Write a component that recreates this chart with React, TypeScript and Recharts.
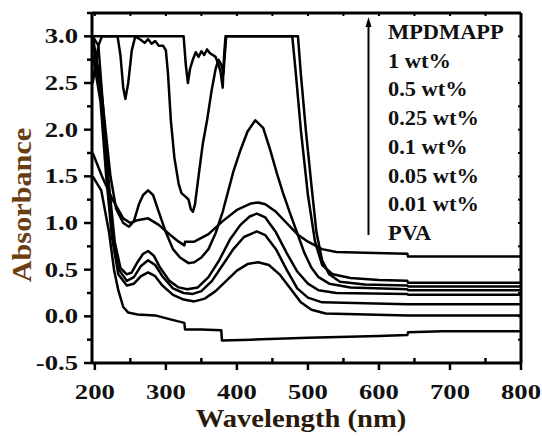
import React from 'react';
import { LineChart, Line, XAxis, YAxis } from 'recharts';

// wavelength (nm), absorbance pairs
const wt1: [number, number][] = [
  [197, 3.0], [325, 3.0], [328, 2.7], [331, 2.5], [334, 2.65], [338, 2.75], [342, 2.83], [346, 2.78],
  [350, 2.84], [354, 2.8], [358, 2.86], [362, 2.82], [366, 2.8], [370, 2.78], [374, 2.7], [377, 2.62],
  [380, 2.45], [382, 2.8], [384, 3.0], [478, 3.0], [483, 2.6], [490, 2.0], [500, 1.3], [510, 0.8],
  [520, 0.55], [535, 0.45], [560, 0.41], [600, 0.39], [640, 0.38], [641, 0.36], [800, 0.36],
];
const wt05: [number, number][] = [
  [197, 2.5], [205, 2.9], [210, 3.0], [232, 3.0], [236, 2.8], [240, 2.45], [243, 2.33], [247, 2.5],
  [252, 2.85], [257, 3.0], [265, 2.96], [270, 2.93], [275, 2.97], [280, 2.92], [285, 2.95], [290, 2.9],
  [296, 2.9], [300, 2.85], [303, 2.6], [307, 2.1], [312, 1.7], [318, 1.42], [322, 1.32], [328, 1.28],
  [332, 1.25], [335, 1.15], [338, 1.12], [341, 1.2], [346, 1.5], [352, 1.85], [358, 2.1], [364, 2.4],
  [370, 2.65], [374, 2.75], [378, 2.7], [381, 2.6], [385, 3.0], [486, 3.0], [490, 2.6], [497, 2.0],
  [505, 1.4], [512, 0.9], [520, 0.6], [530, 0.45], [545, 0.37], [580, 0.34], [640, 0.33], [641, 0.32],
  [800, 0.32],
];
const wt025: [number, number][] = [
  [197, 3.0], [208, 2.5], [215, 2.0], [222, 1.5], [230, 1.15], [240, 1.0], [248, 0.96], [255, 1.02],
  [262, 1.2], [268, 1.3], [275, 1.35], [282, 1.3], [290, 1.12], [300, 0.9], [310, 0.72], [320, 0.63],
  [326, 0.6], [332, 0.57], [340, 0.58], [350, 0.63], [360, 0.72], [370, 0.89], [380, 1.12], [387, 1.32],
  [395, 1.55], [405, 1.78], [415, 1.98], [426, 2.1], [437, 2.02], [447, 1.78], [456, 1.54], [465, 1.32],
  [475, 1.1], [485, 0.89], [495, 0.68], [505, 0.52], [515, 0.42], [530, 0.35], [560, 0.31], [640, 0.29],
  [641, 0.28], [800, 0.28],
];
const wt01: [number, number][] = [
  [197, 1.75], [210, 1.5], [225, 1.25], [240, 1.05], [250, 1.0], [260, 1.03], [275, 1.05], [290, 0.98],
  [305, 0.88], [318, 0.8], [326, 0.76], [327, 0.8], [340, 0.8], [360, 0.88], [380, 1.02], [400, 1.14],
  [420, 1.21], [430, 1.22], [440, 1.2], [455, 1.12], [470, 1.0], [485, 0.88], [500, 0.8], [520, 0.72],
  [540, 0.69], [580, 0.68], [640, 0.67], [641, 0.64], [800, 0.64],
];
const wt005: [number, number][] = [
  [197, 3.0], [205, 2.9], [212, 2.2], [220, 1.4], [228, 0.8], [236, 0.52], [245, 0.45], [252, 0.47],
  [260, 0.58], [268, 0.67], [275, 0.7], [283, 0.65], [292, 0.52], [305, 0.38], [318, 0.31], [330, 0.29],
  [345, 0.31], [360, 0.42], [375, 0.6], [390, 0.82], [405, 0.98], [418, 1.07], [428, 1.1], [440, 1.06],
  [455, 0.9], [470, 0.68], [485, 0.48], [500, 0.35], [515, 0.28], [540, 0.25], [640, 0.24], [641, 0.23],
  [800, 0.23],
];
const wt001: [number, number][] = [
  [197, 2.95], [210, 2.3], [218, 1.5], [226, 0.85], [234, 0.5], [245, 0.38], [255, 0.42], [265, 0.54],
  [275, 0.6], [285, 0.55], [295, 0.43], [310, 0.3], [325, 0.25], [338, 0.24], [350, 0.27], [365, 0.38],
  [380, 0.55], [395, 0.72], [410, 0.85], [428, 0.91], [440, 0.87], [455, 0.72], [470, 0.5], [485, 0.3],
  [500, 0.2], [520, 0.15], [640, 0.13], [800, 0.13],
];
const wtLow: [number, number][] = [
  [197, 2.8], [208, 2.3], [216, 1.5], [224, 0.85], [233, 0.45], [245, 0.33], [255, 0.35], [265, 0.43],
  [275, 0.47], [285, 0.43], [295, 0.33], [310, 0.23], [325, 0.18], [340, 0.16], [355, 0.19], [370, 0.27],
  [385, 0.38], [400, 0.49], [415, 0.56], [430, 0.58], [445, 0.55], [460, 0.45], [475, 0.3], [490, 0.15],
  [505, 0.07], [525, 0.03], [640, 0.01], [800, 0.01],
];
const pva: [number, number][] = [
  [197, 1.5], [209, 1.35], [220, 0.9], [227, 0.5], [233, 0.28], [240, 0.1], [247, 0.04], [260, 0.02],
  [285, 0.01], [305, -0.03], [326, -0.07], [327, -0.14], [350, -0.14], [378, -0.15], [379, -0.26],
  [420, -0.25], [500, -0.23], [600, -0.21], [640, -0.2], [641, -0.17], [690, -0.16], [800, -0.16],
];

const curves = [wt1, wt05, wt025, wt01, wt005, wt001, wtLow, pva];
const legendLabels = ['MPDMAPP', '1 wt%', '0.5 wt%', '0.25 wt%', '0.1 wt%', '0.05 wt%', '0.01 wt%', 'PVA'];

const xTicks = [200, 250, 300, 350, 400, 450, 500, 550, 600, 650, 700, 750, 800];
const yTicks = [-0.5, -0.25, 0, 0.25, 0.5, 0.75, 1, 1.25, 1.5, 1.75, 2, 2.25, 2.5, 2.75, 3, 3.25];

const W = 542;
const H = 436;
const margin = { top: 12, right: 20, bottom: 33, left: 32 };
const font = 'Liberation Serif';

const BottomTick = ({ x, y, payload }: any) => {
  const major = payload.value % 100 === 0;
  return (
    <g>
      <line x1={x} x2={x} y1={y} y2={y + (major ? 7 : -5)} stroke="#000" strokeWidth={2.5} />
      {major && (
        <text x={0} y={0} transform={`translate(${x},${y + 36}) scale(1.3,1)`} textAnchor="middle"
          fontFamily={font} fontWeight="bold" fontSize={20.5} fill="#111">{payload.value}</text>
      )}
    </g>
  );
};

const LeftTick = ({ x, y, payload }: any) => {
  const v = payload.value;
  const major = Math.abs(v * 2 - Math.round(v * 2)) < 1e-6;
  return (
    <g>
      <line x1={x} x2={x - (major ? 8 : 5)} y1={y} y2={y} stroke="#000" strokeWidth={2.5} />
      {major && v <= 3 && (
        <text x={0} y={0} transform={`translate(${x - 14},${y + 7}) scale(1.3,1)`} textAnchor="end"
          fontFamily={font} fontWeight="bold" fontSize={20.5} fill="#111">{v.toFixed(1)}</text>
      )}
    </g>
  );
};

const TopTick = ({ x, y }: any) => <line x1={x} x2={x} y1={y} y2={y + 3} stroke="#000" strokeWidth={2} />;
const RightTick = ({ x, y }: any) => <line x1={x} x2={x - 3} y1={y} y2={y} stroke="#000" strokeWidth={2} />;

export default function App() {
  return (
    <div style={{ position: 'absolute', left: 0, top: 0, width: W, height: H, background: '#fff' }}>
      <LineChart width={W} height={H} margin={margin}>
        <XAxis xAxisId="b" dataKey="x" type="number" domain={[196, 800]} allowDataOverflow ticks={xTicks}
          interval={0} height={40} tickSize={0} tickMargin={0} tickLine={false}
          axisLine={{ stroke: '#000', strokeWidth: 3 }} tick={<BottomTick />} />
        <XAxis xAxisId="t" orientation="top" dataKey="x" type="number" domain={[196, 800]} allowDataOverflow
          ticks={xTicks} interval={0} height={1} tickSize={0} tickMargin={0} tickLine={false}
          axisLine={{ stroke: '#000', strokeWidth: 3 }} tick={<TopTick />} />
        <YAxis yAxisId="l" type="number" domain={[-0.5, 3.25]} allowDataOverflow ticks={yTicks} interval={0}
          width={60} tickSize={0} tickMargin={0} tickLine={false}
          axisLine={{ stroke: '#000', strokeWidth: 3 }} tick={<LeftTick />} />
        <YAxis yAxisId="r" orientation="right" type="number" domain={[-0.5, 3.25]} allowDataOverflow
          ticks={yTicks} interval={0} width={1} tickSize={0} tickMargin={0} tickLine={false}
          axisLine={{ stroke: '#000', strokeWidth: 3 }} tick={<RightTick />} />
        {curves.map((c, i) => (
          <Line key={i} xAxisId="b" yAxisId="l" data={c.map(([x, y]) => ({ x, y }))} dataKey="y" type="linear"
            stroke="#000" strokeWidth={2.5} dot={false} isAnimationActive={false} strokeLinejoin="round" />
        ))}
      </LineChart>
      <svg width={W} height={H} style={{ position: 'absolute', left: 0, top: 0, pointerEvents: 'none' }}>
        <line x1={368.5} x2={368.5} y1={235} y2={24} stroke="#000" strokeWidth={2} />
        <polygon points="368.5,17 365.5,27 371.5,27" fill="#000" />
      </svg>
      {legendLabels.map((t, i) => (
        <div key={t} style={{
          position: 'absolute', left: 388, top: 32 + i * 28.7 - 12, height: 24, lineHeight: '24px',
          fontFamily: font, fontWeight: 'bold', fontSize: 20, color: '#111', whiteSpace: 'nowrap',
          transform: 'scale(1.12,1)', transformOrigin: 'left center',
        }}>{t}</div>
      ))}
      <div style={{
        position: 'absolute', left: 22, top: 205, fontFamily: font, fontWeight: 'bold', fontSize: 27,
        color: '#6b3d12', whiteSpace: 'nowrap', transform: 'translate(-50%,-50%) rotate(-90deg) scale(1.12,1)',
      }}>Absorbance</div>
      <div style={{
        position: 'absolute', left: 301, top: 419, fontFamily: font, fontWeight: 'bold', fontSize: 26,
        color: '#2a1a0a', whiteSpace: 'nowrap', transform: 'translate(-50%,-50%) scale(1.1,1)',
      }}>Wavelength (nm)</div>
    </div>
  );
}
